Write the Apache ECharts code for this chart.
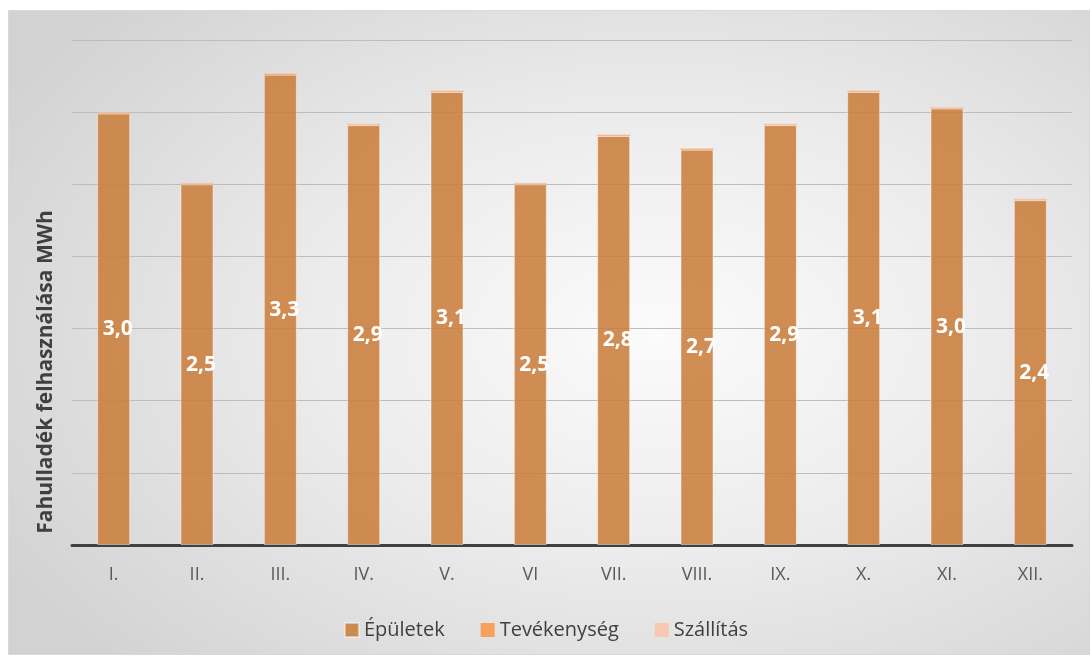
<!DOCTYPE html>
<html>
<head>
<meta charset="utf-8">
<script src="https://cdn.jsdelivr.net/npm/echarts@6/dist/echarts.min.js"></script>
<style>
  html, body { margin: 0; padding: 0; background: #ffffff; }
  #frame {
    position: absolute; left: 8px; top: 10px; width: 1082px; height: 645px;
    border: 1px solid #d9d9d9; box-sizing: border-box;
    background: radial-gradient(ellipse 70% 75% at 60% 50%, #fbfbfb 0%, #ececec 45%, #d2d2d2 100%);
  }
  #chart { position: absolute; left: 0; top: 0; width: 1092px; height: 661px; }
</style>
</head>
<body>
<div id="frame"></div>
<div id="chart"></div>
<script>
const categories = ['I.', 'II.', 'III.', 'IV.', 'V.', 'VI', 'VII.', 'VIII.', 'IX.', 'X.', 'XI.', 'XII.'];
const epuletek = [2.99, 2.50, 3.26, 2.91, 3.14, 2.50, 2.835, 2.74, 2.91, 3.14, 3.025, 2.39];
const tevekenyseg = [0.005, 0.005, 0.005, 0.005, 0.005, 0.005, 0.005, 0.005, 0.005, 0.005, 0.005, 0.005];
const szallitas = [0.005, 0.005, 0.005, 0.005, 0.005, 0.005, 0.005, 0.005, 0.005, 0.005, 0.005, 0.005];
const seriesNames = ['Épületek', 'Tevékenység', 'Szállítás'];
const yTitle = 'Fahulladék felhasználása MWh';

const chart = echarts.init(document.getElementById('chart'));
const fontFam = '"Open Sans", "Liberation Sans", sans-serif';
chart.setOption({
  backgroundColor: 'transparent',
  animation: false,
  grid: { left: 72, right: 20, top: 40, bottom: 116 },
  legend: {
    bottom: 16,
    left: 'center',
    itemWidth: 14, itemHeight: 14, itemGap: 36,
    icon: 'rect',
    textStyle: { color: '#404040', fontSize: 20, fontFamily: fontFam },
    data: seriesNames
  },
  xAxis: {
    type: 'category',
    data: categories,
    axisLine: { lineStyle: { color: '#404040', width: 3 } },
    axisTick: { show: false },
    axisLabel: { color: '#595959', fontSize: 18, fontFamily: fontFam, margin: 21 }
  },
  yAxis: {
    type: 'value',
    min: 0, max: 3.5, interval: 0.5,
    axisLabel: { show: false },
    axisLine: { show: false },
    axisTick: { show: false },
    splitLine: { lineStyle: { color: '#bdbdbd', width: 1 } }
  },
  graphic: [{
    type: 'text',
    x: 46, y: 372,
    rotation: Math.PI / 2,
    style: {
      text: yTitle,
      fill: '#404040',
      align: 'center',
      verticalAlign: 'middle',
      font: 'bold 21px "Open Sans", "Liberation Sans", sans-serif'
    }
  }],
  series: [
    {
      name: seriesNames[0], type: 'bar', stack: 'a', data: epuletek, barWidth: 33,
      itemStyle: { color: 'rgba(203,126,60,0.88)', borderColor: 'rgba(255,255,255,0.45)', borderWidth: 1 },
      label: {
        show: true, position: 'inside', offset: [4, 0],
        color: '#ffffff', fontWeight: 'bold', fontSize: 21, fontFamily: fontFam,
        formatter: p => p.value.toFixed(1).replace('.', ',')
      }
    },
    {
      name: seriesNames[1], type: 'bar', stack: 'a', data: tevekenyseg, barWidth: 33,
      itemStyle: { color: '#F5A25E' }
    },
    {
      name: seriesNames[2], type: 'bar', stack: 'a', data: szallitas, barWidth: 33,
      itemStyle: { color: '#F8C8B0' }
    }
  ]
});
</script>
</body>
</html>
